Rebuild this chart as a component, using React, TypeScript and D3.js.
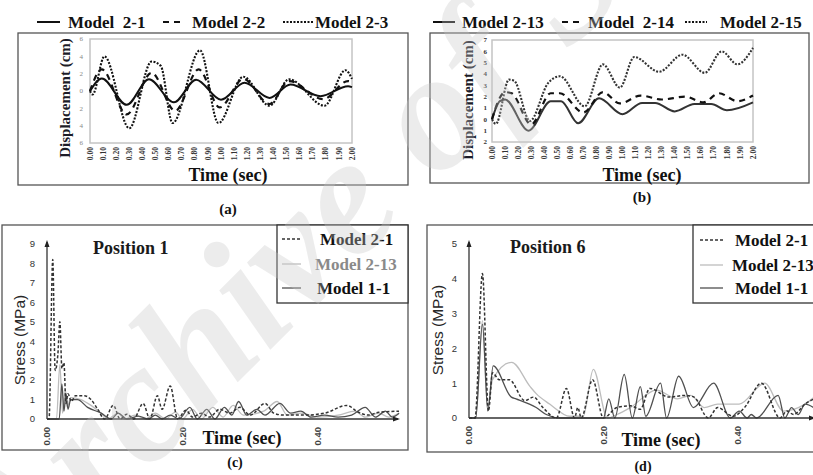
import React, { useEffect, useRef } from "react";
import * as d3 from "d3";

type Pt = [number, number];

// ---- panel (a) / (b): displacement vs time ----
const timeLabels = ["0.00", "0.10", "0.20", "0.30", "0.40", "0.50", "0.60", "0.70", "0.80", "0.90", "1.00",
  "1.10", "1.20", "1.30", "1.40", "1.50", "1.60", "1.70", "1.80", "1.90", "2.00"];
const dispTicksA = [6, 4, 2, 0, -2, -4, -6];
const dispTicksB = [7, 6, 5, 4, 3, 2, 1, 0, -1, -2];
const legendA = ["Model  2-1", "Model 2-2", "Model 2-3"];
const legendB = ["Model 2-13", "Model  2-14", "Model 2-15"];

const model21a: Pt[] = [[0, 0], [0.09, 1.45], [0.28, -1.6], [0.45, 1.35], [0.64, -1.3], [0.81, 1.3], [1.0, -1.0],
  [1.18, 0.95], [1.37, -0.8], [1.53, 0.75], [1.76, -0.6], [1.97, 0.55], [2.0, 0.45]];
const model22a: Pt[] = [[0, 0], [0.09, 2.5], [0.28, -2.7], [0.47, 2.1], [0.65, -2.3], [0.83, 2.5], [0.99, -1.9],
  [1.17, 1.4], [1.37, -1.5], [1.52, 1.15], [1.78, -0.95], [1.97, 1.15], [2.0, 1.0]];
const model23a: Pt[] = [[0, 0], [0.02, -0.4], [0.11, 4.0], [0.3, -4.3], [0.47, 3.4], [0.54, 2.9], [0.63, -3.7],
  [0.84, 4.7], [0.98, -3.7], [1.17, 1.65], [1.37, -1.7], [1.52, 1.35], [1.79, -1.7], [1.95, 2.4], [2.0, 1.4]];

const model213b: Pt[] = [[0, 0], [0.06, 1.6], [0.1, 1.75], [0.28, -1.0], [0.45, 1.6], [0.53, 1.6], [0.66, -0.35],
  [0.82, 1.85], [1.0, 0.45], [1.15, 1.45], [1.25, 1.45], [1.4, 0.7], [1.55, 1.35], [1.68, 1.35], [1.8, 0.8], [2.0, 1.5]];
const model214b: Pt[] = [[0, 0], [0.06, 1.9], [0.1, 2.4], [0.15, 2.3], [0.3, -0.45], [0.45, 2.3], [0.52, 2.3],
  [0.7, 0.6], [0.85, 2.4], [0.98, 1.4], [1.14, 2.1], [1.3, 1.75], [1.48, 2.0], [1.62, 1.5], [1.74, 2.3], [1.88, 1.6], [2.0, 2.1]];
const model215b: Pt[] = [[0, 0], [0.03, -0.4], [0.13, 3.5], [0.17, 3.4], [0.29, -0.15], [0.43, 3.2], [0.52, 3.8],
  [0.71, 1.15], [0.85, 4.85], [0.98, 2.8], [1.09, 5.5], [1.28, 4.2], [1.46, 5.7], [1.63, 4.1], [1.76, 6.0], [1.88, 4.85], [2.0, 6.3]];

// ---- panel (c) / (d): stress vs time ----
const stressTimeTicks = [0, 0.2, 0.4];
const stressTimeLabels = ["0.00", "0.20", "0.40"];
const stressTicksC = [0, 1, 2, 3, 4, 5, 6, 7, 8, 9];
const stressTicksD = [0, 1, 2, 3, 4, 5];
const legendCD = ["Model 2-1", "Model 2-13", "Model 1-1"];

const model21c: Pt[] = [[0, 0], [0.003, 0], [0.0085, 8.2], [0.012, 2.5], [0.016, 3.3], [0.019, 5.0], [0.022, 2.6],
  [0.025, 2.9], [0.028, 0.8], [0.031, 1.3], [0.036, 0.9], [0.042, 1.2], [0.055, 1.2], [0.065, 1.0], [0.075, 0.5],
  [0.085, 0], [0.098, 0.7], [0.108, 0], [0.118, 0.25], [0.128, 0], [0.142, 0.8], [0.152, 0], [0.163, 1.2],
  [0.17, 0.5], [0.182, 1.7], [0.193, 0], [0.205, 0.45], [0.215, 0.1], [0.228, 0.3], [0.24, 0.1], [0.255, 0.5],
  [0.27, 0.3], [0.285, 0.6], [0.3, 0.2], [0.322, 0.8], [0.335, 0.3], [0.35, 0.2], [0.38, 0.2], [0.41, 0.3],
  [0.443, 0.7], [0.46, 0.35], [0.475, 0.2], [0.49, 0.35], [0.52, 0.4]];
const model213c: Pt[] = [[0, 0], [0.014, 0], [0.019, 2.8], [0.023, 0.3], [0.027, 1.5], [0.03, 0.6], [0.035, 1.1],
  [0.05, 1.0], [0.065, 0.7], [0.08, 0.3], [0.09, 0], [0.105, 0.3], [0.115, 0], [0.13, 0.2], [0.145, 0], [0.16, 0.3],
  [0.175, 0], [0.19, 0.35], [0.2, 0], [0.215, 0.5], [0.228, 0], [0.245, 0.6], [0.26, 0.1], [0.275, 0.7], [0.29, 0.2],
  [0.32, 0.4], [0.34, 0.9], [0.355, 0.2], [0.375, 0.3], [0.4, 0.1], [0.43, 0.2], [0.455, 0.4], [0.47, 0.1],
  [0.49, 0.3], [0.505, 0.1], [0.52, 0.3]];
const model11c: Pt[] = [[0, 0], [0.018, 0], [0.022, 1.8], [0.025, 0.4], [0.028, 1.3], [0.031, 0.5], [0.035, 1.0],
  [0.045, 1.0], [0.06, 0.6], [0.08, 0.3], [0.095, 0], [0.105, 0.3], [0.118, 0], [0.135, 0.15], [0.15, 0],
  [0.16, 0.2], [0.17, 0], [0.182, 0.2], [0.195, 0], [0.211, 0.6], [0.222, 0], [0.236, 0.5], [0.248, 0],
  [0.262, 0.6], [0.273, 0.2], [0.283, 0.9], [0.295, 0.2], [0.31, 0.5], [0.322, 0.2], [0.344, 0.8], [0.36, 0.3],
  [0.375, 0.4], [0.39, 0.1], [0.41, 0.2], [0.43, 0.1], [0.45, 0.2], [0.47, 0.6], [0.485, 0.1], [0.5, 0.4],
  [0.51, 0.1], [0.52, 0.3]];

const model21d: Pt[] = [[0, 0], [0.009, 0], [0.02, 4.15], [0.029, 0.2], [0.035, 1.3], [0.045, 1.1], [0.06, 1.1],
  [0.083, 0.5], [0.096, 0.6], [0.11, 0.3], [0.13, 0], [0.145, 0.85], [0.157, 0], [0.162, 0.3], [0.167, 0],
  [0.184, 1.1], [0.2, 0], [0.22, 0.3], [0.24, 0.35], [0.255, 0.25], [0.269, 0.85], [0.298, 0.6], [0.322, 0.65],
  [0.335, 0.6], [0.356, 0], [0.37, 0.3], [0.393, 0.05], [0.41, 0.3], [0.435, 1.0], [0.463, 0], [0.473, 0.2],
  [0.483, 0.1], [0.5, 0.4], [0.52, 0.6]];
const model213d: Pt[] = [[0, 0], [0.01, 0], [0.02, 2.8], [0.028, 0.3], [0.035, 1.1], [0.0635, 1.6], [0.091, 0.9],
  [0.1, 0.7], [0.12, 0.4], [0.15, 0.05], [0.17, 0.05], [0.185, 1.4], [0.206, 0], [0.22, 0.1], [0.24, 0.3],
  [0.279, 0.8], [0.31, 0.55], [0.33, 0.65], [0.35, 0.3], [0.37, 0.4], [0.402, 0.4], [0.44, 1.0], [0.468, 0.2],
  [0.5, 0.4], [0.52, 0.7]];
const model11d: Pt[] = [[0, 0], [0.01, 0], [0.02, 2.7], [0.028, 0.2], [0.036, 1.5], [0.063, 0.6], [0.07, 0.55],
  [0.1, 0.3], [0.115, 0.1], [0.135, 0], [0.2, 0], [0.208, 0.55], [0.217, 0], [0.231, 1.25], [0.243, 0],
  [0.255, 0.9], [0.263, 0.05], [0.285, 1.0], [0.294, 0], [0.312, 1.2], [0.334, 0.3], [0.364, 1.0], [0.389, 0],
  [0.402, 0.2], [0.414, 0], [0.42, 0.1], [0.428, 0], [0.46, 0.65], [0.47, 0], [0.48, 0.3], [0.49, 0.1],
  [0.5, 0.4], [0.52, 0.2]];

const W = 813;
const H = 475;
const serif = "'Liberation Serif', 'Times New Roman', serif";
const sans = "'Liberation Sans', Arial, sans-serif";

type Style = { color: string; width: number; dash: string | null };
const solidA: Style = { color: "#111", width: 2, dash: null };
const dashA: Style = { color: "#111", width: 2.2, dash: "6,5" };
const dotA: Style = { color: "#111", width: 2.1, dash: "2,1.5" };
const dashS: Style = { color: "#333", width: 1.5, dash: "3,2" };
const grayS: Style = { color: "#bdbdbd", width: 1.3, dash: null };
const solidS: Style = { color: "#505050", width: 1.3, dash: null };

function styled(sel: any, s: Style) {
  sel.attr("fill", "none").attr("stroke", s.color).attr("stroke-width", s.width);
  if (s.dash) sel.attr("stroke-dasharray", s.dash);
  return sel;
}

function drawDisp(svg: any, c: any) {
  svg.append("rect").attr("x", c.box[0]).attr("y", c.box[1])
    .attr("width", c.box[2] - c.box[0]).attr("height", c.box[3] - c.box[1])
    .attr("fill", "none").attr("stroke", "#555").attr("stroke-width", 1.3);
  const x = d3.scaleLinear().domain([0, 2]).range([c.plot[0], c.plot[2]]);
  const y = d3.scaleLinear().domain(c.yDomain).range([c.plot[3], c.plot[1]]);
  svg.append("rect").attr("x", c.plot[0]).attr("y", c.plot[1])
    .attr("width", c.plot[2] - c.plot[0]).attr("height", c.plot[3] - c.plot[1])
    .attr("fill", "none").attr("stroke", "#c4c4c4").attr("stroke-width", 1.5);

  svg.append("g").selectAll("text").data(c.yTicks).join("text")
    .attr("x", c.yLabelX).attr("y", (d: number) => y(d)).attr("dy", "0.35em")
    .attr("text-anchor", "end").attr("font-family", serif).attr("font-size", 7)
    .attr("font-weight", c.tickBold ? "bold" : "normal")
    .attr("fill", c.tickColor).text((d: number) => String(Math.abs(d)));

  svg.append("g").selectAll("text").data(timeLabels).join("text")
    .attr("transform", (d: string) => `translate(${x(+d)},${c.plot[3] + 4}) rotate(-90)`)
    .attr("dy", "0.35em").attr("text-anchor", "end").attr("font-family", serif)
    .attr("font-size", 7.5).attr("font-weight", "bold").attr("fill", "#333").text((d: string) => d);

  const line = d3.line<Pt>().x(d => x(d[0])).y(d => y(d[1])).curve(d3.curveMonotoneX);
  c.series.forEach((s: any) => styled(svg.append("path").attr("d", line(s.data)), s.style));

  svg.append("text").attr("transform", `translate(${c.yTitleX},${c.yTitleY}) rotate(-90)`)
    .attr("text-anchor", "middle").attr("dy", "0.35em").attr("font-family", serif)
    .attr("font-size", 15).attr("font-weight", "bold").attr("fill", "#1c1c28").text("Displacement (cm)");
  svg.append("text").attr("x", c.timeX).attr("y", c.timeY).attr("text-anchor", "middle")
    .attr("font-family", serif).attr("font-size", 18).attr("font-weight", "bold").attr("fill", "#111")
    .text("Time (sec)");
  svg.append("text").attr("x", c.letterX).attr("y", c.letterY).attr("text-anchor", "middle")
    .attr("font-family", serif).attr("font-size", 15).attr("font-weight", "bold").attr("fill", "#111")
    .text(c.letter);

  c.legend.forEach((l: any) => {
    styled(svg.append("line").attr("x1", l.x1).attr("x2", l.x2).attr("y1", c.legendY).attr("y2", c.legendY), l.style);
    svg.append("text").attr("x", l.tx).attr("y", c.legendY + 6).attr("font-family", serif)
      .attr("font-size", 17).attr("font-weight", "bold").attr("fill", "#111")
      .style("white-space", "pre").text(l.name);
  });
}

function arrow(svg: any, x: number, y: number, dir: "up" | "right") {
  const p = dir === "up"
    ? [[x, y], [x - 2.5, y + 7], [x + 2.5, y + 7]]
    : [[x, y], [x - 7, y - 2.5], [x - 7, y + 2.5]];
  svg.append("path").attr("d", "M" + p.map(q => q.join(",")).join("L") + "Z").attr("fill", "#222");
}

function drawStress(svg: any, c: any) {
  svg.append("rect").attr("x", c.box[0]).attr("y", c.box[1])
    .attr("width", c.box[2] - c.box[0]).attr("height", c.box[3] - c.box[1])
    .attr("fill", "none").attr("stroke", "#555").attr("stroke-width", 1.3);
  const x = d3.scaleLinear().domain([0, c.xMax]).range([c.x0, c.x0 + c.xMax * c.pxPerSec]);
  const y = d3.scaleLinear().domain([0, c.yMax]).range([c.y0, c.yTop]);

  const line = d3.line<Pt>().x(d => x(d[0])).y(d => y(d[1])).curve(d3.curveMonotoneX);
  c.series.forEach((s: any) => styled(svg.append("path").attr("d", line(s.data)), s.style));

  svg.append("line").attr("x1", c.x0).attr("x2", c.x0).attr("y1", c.y0).attr("y2", c.yTop - 2)
    .attr("stroke", "#333").attr("stroke-width", 1.3);
  arrow(svg, c.x0, c.yTop - 4, "up");
  svg.append("line").attr("x1", c.x0).attr("x2", c.xEnd).attr("y1", c.y0).attr("y2", c.y0)
    .attr("stroke", "#333").attr("stroke-width", 1.5);
  arrow(svg, c.xEnd + 2, c.y0, "right");

  svg.append("g").selectAll("text").data(c.yTicks).join("text")
    .attr("x", c.x0 - 12).attr("y", (d: number) => y(d)).attr("dy", "0.35em").attr("text-anchor", "end")
    .attr("font-family", sans).attr("font-size", 9.5).attr("fill", "#333").text((d: number) => String(d));
  svg.append("g").selectAll("text").data(stressTimeTicks).join("text")
    .attr("transform", (d: number) => `translate(${x(d)},${c.y0 + 8}) rotate(-90)`)
    .attr("dy", "0.35em").attr("text-anchor", "end").attr("font-family", sans).attr("font-size", 9.5)
    .attr("font-weight", "bold").attr("fill", "#444").text((d: number, i: number) => stressTimeLabels[i]);

  svg.append("text").attr("transform", `translate(${c.yTitleX},${c.yTitleY}) rotate(-90)`)
    .attr("text-anchor", "middle").attr("dy", "0.35em").attr("font-family", sans)
    .attr("font-size", 15.5).attr("fill", "#262626").text("Stress (MPa)");
  svg.append("text").attr("x", c.posX).attr("y", c.posY).attr("font-family", serif)
    .attr("font-size", 18).attr("font-weight", "bold").attr("fill", "#1a1a1a").text(c.position);
  svg.append("text").attr("x", c.timeX).attr("y", c.timeY).attr("text-anchor", "middle")
    .attr("font-family", serif).attr("font-size", 18).attr("font-weight", "bold").attr("fill", "#111")
    .text("Time (sec)");
  svg.append("text").attr("x", c.letterX).attr("y", c.letterY).attr("text-anchor", "middle")
    .attr("font-family", serif).attr("font-size", 14).attr("font-weight", "bold").attr("fill", "#111")
    .text(c.letter);

  const lb = c.legendBox;
  svg.append("rect").attr("x", lb[0]).attr("y", lb[1]).attr("width", lb[2] - lb[0]).attr("height", lb[3] - lb[1])
    .attr("fill", "#fff").attr("stroke", "#333").attr("stroke-width", 1.3);
  c.legend.forEach((l: any) => {
    styled(svg.append("line").attr("x1", c.lx1).attr("x2", c.lx2).attr("y1", l.y).attr("y2", l.y), l.style);
    svg.append("text").attr("x", l.tx).attr("y", l.y + 6).attr("font-family", serif)
      .attr("font-size", 17).attr("font-weight", "bold").attr("fill", l.color || "#111").text(l.name);
  });
}

export default function App() {
  const ref = useRef<SVGSVGElement>(null);

  useEffect(() => {
    const svg = d3.select(ref.current);
    svg.selectAll("*").remove();
    svg.append("rect").attr("width", W).attr("height", H).attr("fill", "#fff");

    drawDisp(svg, {
      box: [18, 33, 408, 185], plot: [90, 39, 352, 143], yDomain: [-6, 6], yTicks: dispTicksA,
      yLabelX: 83, tickColor: "#888", tickBold: false, yTitleX: 65, yTitleY: 98,
      timeX: 228, timeY: 181, letter: "(a)", letterX: 228, letterY: 214,
      series: [{ data: model21a, style: solidA }, { data: model22a, style: dashA }, { data: model23a, style: dotA }],
      legendY: 22,
      legend: [
        { name: legendA[0], x1: 37, x2: 60, tx: 68, style: solidA },
        { name: legendA[1], x1: 163, x2: 183, tx: 192, style: dashA },
        { name: legendA[2], x1: 283, x2: 313, tx: 315, style: dotA },
      ],
    });
    drawDisp(svg, {
      box: [430, 33, 809, 183], plot: [492, 40, 753, 142], yDomain: [-2, 7], yTicks: dispTicksB,
      yLabelX: 487, tickColor: "#333", tickBold: true, yTitleX: 468, yTitleY: 100,
      timeX: 642, timeY: 181, letter: "(b)", letterX: 642, letterY: 202,
      series: [{ data: model213b, style: { ...solidA, color: "#333" } }, { data: model214b, style: dashA },
        { data: model215b, style: { ...dotA, color: "#333" } }],
      legendY: 22,
      legend: [
        { name: legendB[0], x1: 433, x2: 455, tx: 462, style: solidA },
        { name: legendB[1], x1: 562, x2: 579, tx: 588, style: dashA },
        { name: legendB[2], x1: 685, x2: 707, tx: 720, style: dotA },
      ],
    });
    drawStress(svg, {
      box: [2, 225, 408, 450], x0: 47, y0: 419, yTop: 244, yMax: 9, xMax: 0.52, pxPerSec: 677, xEnd: 398,
      yTicks: stressTicksC, yTitleX: 20, yTitleY: 340, position: "Position 1", posX: 93, posY: 254,
      timeX: 242, timeY: 444, letter: "(c)", letterX: 235, letterY: 467,
      series: [{ data: model213c, style: grayS }, { data: model11c, style: solidS }, { data: model21c, style: dashS }],
      legendBox: [277, 225, 408, 303], lx1: 282, lx2: 301,
      legend: [
        { name: legendCD[0], y: 239, tx: 320, style: dashS },
        { name: legendCD[1], y: 264, tx: 315, style: grayS, color: "#8a8a8a" },
        { name: legendCD[2], y: 288, tx: 317, style: solidS },
      ],
    });
    drawStress(svg, {
      box: [427, 225, 816, 452], x0: 469, y0: 418, yTop: 244, yMax: 5, xMax: 0.52, pxPerSec: 672, xEnd: 814,
      yTicks: stressTicksD, yTitleX: 438, yTitleY: 330, position: "Position 6", posX: 510, posY: 253,
      timeX: 661, timeY: 446, letter: "(d)", letterX: 643, letterY: 471,
      series: [{ data: model213d, style: grayS }, { data: model11d, style: solidS }, { data: model21d, style: dashS }],
      legendBox: [693, 225, 816, 303], lx1: 700, lx2: 723,
      legend: [
        { name: legendCD[0], y: 240, tx: 735, style: dashS },
        { name: legendCD[1], y: 265, tx: 732, style: grayS },
        { name: legendCD[2], y: 288, tx: 735, style: solidS },
      ],
    });

    // faint diagonal watermark over the figure
    svg.append("text").attr("transform", "translate(20,600) rotate(-45)")
      .attr("font-family", serif).attr("font-style", "italic").attr("font-weight", "bold")
      .attr("font-size", 170).attr("fill", "#c8c8c8").attr("opacity", 0.33).text("Archive of SID");
  }, []);

  return <svg ref={ref} width={W} height={H} style={{ position: "absolute", left: 0, top: 0 }} />;
}
